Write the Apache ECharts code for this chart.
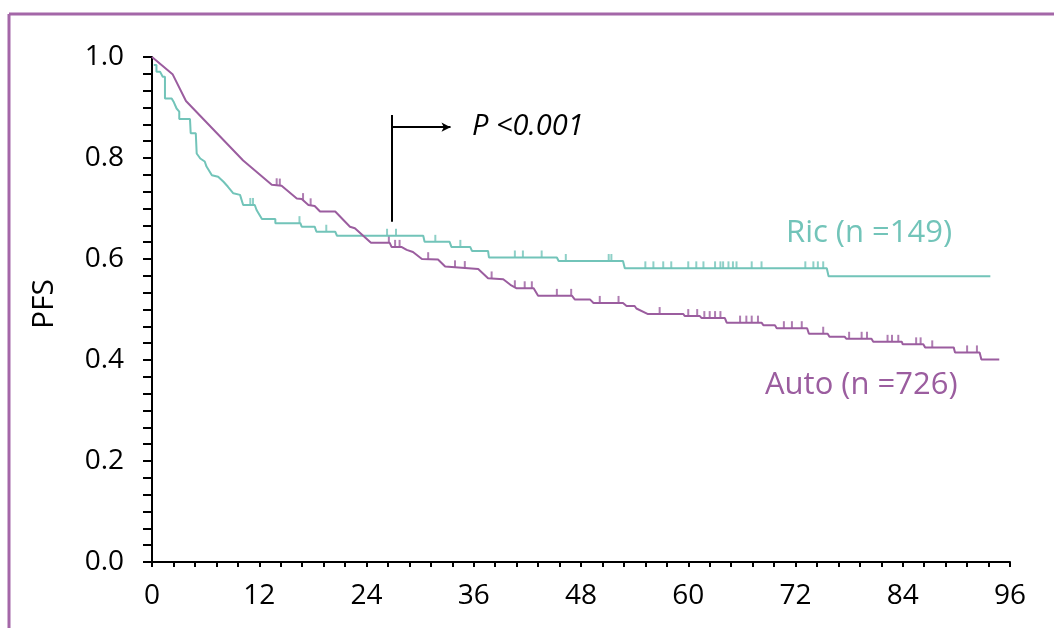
<!DOCTYPE html>
<html>
<head>
<meta charset="utf-8">
<title>PFS</title>
<script src="https://cdn.jsdelivr.net/npm/echarts@6/dist/echarts.min.js"></script>
<style>
    html, body { margin: 0; padding: 0; background: #fff; }
    #chart { width: 1054px; height: 628px; }
</style>
</head>
<body>
<div id="chart"></div>
<script>
    // curve vertices [months, PFS]
    var autoCurve = [
        [0, 1.0], [2.3, 0.966], [3.8, 0.913], [10.2, 0.795], [13.4, 0.747], [14.5, 0.745],
        [16.2, 0.720], [16.75, 0.719], [17.5, 0.707], [18.2, 0.705], [18.8, 0.694], [20.5, 0.694],
        [22.15, 0.664], [22.7, 0.661], [24.5, 0.632], [26.6, 0.632], [26.8, 0.624], [27.9, 0.624],
        [28.5, 0.618], [29.2, 0.614], [30.2, 0.600], [32.0, 0.599], [32.8, 0.585], [36.5, 0.580],
        [37.6, 0.562], [39.3, 0.560], [40.1, 0.549], [40.8, 0.542], [42.7, 0.542], [43.2, 0.527],
        [47.0, 0.527], [47.3, 0.520], [49.0, 0.520], [49.4, 0.513], [52.7, 0.513], [53.1, 0.507],
        [54.0, 0.507], [54.2, 0.502], [55.5, 0.491], [59.45, 0.491], [59.6, 0.487], [61.3, 0.487],
        [61.5, 0.483], [64.1, 0.483], [64.3, 0.474], [68.2, 0.474], [68.4, 0.469], [69.7, 0.469],
        [69.9, 0.463], [73.3, 0.463], [73.5, 0.452], [75.6, 0.452], [75.8, 0.446], [77.5, 0.446],
        [77.7, 0.442], [80.5, 0.442], [80.7, 0.436], [83.9, 0.436], [84.0, 0.431], [86.3, 0.431],
        [86.5, 0.425], [89.7, 0.425], [89.85, 0.415], [92.6, 0.415], [92.8, 0.401], [94.8, 0.401]
    ];
    var ricCurve = [
        [0.2, 0.984], [0.5, 0.984], [0.5, 0.971], [0.9, 0.971], [1.2, 0.961], [1.45, 0.961],
        [1.45, 0.918], [2.2, 0.918], [2.4, 0.912], [2.75, 0.898], [3.05, 0.892], [3.05, 0.877],
        [4.25, 0.877], [4.33, 0.849], [4.9, 0.849], [5.0, 0.809], [5.4, 0.799], [5.9, 0.793],
        [6.1, 0.783], [6.7, 0.766], [7.4, 0.763], [8.0, 0.753], [8.5, 0.743], [9.1, 0.730],
        [9.85, 0.727], [10.2, 0.707], [11.5, 0.707], [11.7, 0.697], [12.3, 0.679], [13.8, 0.679],
        [13.8, 0.671], [16.6, 0.671], [16.75, 0.664], [18.2, 0.664], [18.4, 0.654], [20.5, 0.654],
        [20.7, 0.646], [30.35, 0.646], [30.5, 0.634], [33.3, 0.634], [33.5, 0.624], [35.6, 0.624],
        [35.8, 0.616], [37.6, 0.616], [37.7, 0.603], [45.3, 0.603], [45.5, 0.596], [52.7, 0.596],
        [52.9, 0.5815], [75.5, 0.5815], [75.7, 0.566], [93.8, 0.566]
    ];
    // censoring times (months)
    var autoCensor = [13.95, 14.3, 16.9, 17.75, 26.5, 27.2, 27.7, 30.9, 33.9, 35.0, 38.0, 40.6, 41.7,
        42.5, 45.3, 46.9, 50.1, 52.2, 56.8, 60.0, 61.0, 61.8, 62.4, 63.0, 63.6, 65.8, 66.5, 67.1, 67.8,
        70.7, 71.6, 72.7, 75.1, 78.0, 79.4, 80.0, 82.3, 82.8, 83.5, 85.5, 86.0, 87.3, 91.2, 92.3];
    var ricCensor = [11.0, 11.3, 16.5, 19.5, 26.3, 27.3, 31.7, 34.5, 40.6, 41.5, 43.6, 46.3, 51.1,
        51.4, 55.2, 56.1, 57.2, 58.1, 60.0, 60.9, 61.7, 63.0, 63.6, 63.9, 64.5, 65.0, 65.4, 67.1, 68.2,
        73.1, 74.0, 74.5, 75.1];

    var purple = '#9b5d9f';
    var teal = '#72c4b9';
    var font = '"Open Sans", "Noto Sans", sans-serif';

    // place a censor mark on its curve
    function valueAt(curve, t) {
        for (var i = 1; i < curve.length; i++) {
            if (curve[i][0] >= t) {
                var a = curve[i - 1], b = curve[i];
                if (b[0] === a[0]) return b[1];
                return a[1] + (b[1] - a[1]) * (t - a[0]) / (b[0] - a[0]);
            }
        }
        return curve[curve.length - 1][1];
    }
    function censorPoints(curve, times) {
        var res = [];
        for (var i = 0; i < times.length; i++) {
            res.push([times[i], valueAt(curve, times[i])]);
        }
        return res;
    }

    var chart = echarts.init(document.getElementById('chart'));
    chart.setOption({
        animation: false,
        grid: { left: 152, right: 44, top: 57, bottom: 66 },
        xAxis: {
            type: 'value', min: 0, max: 96, interval: 12,
            axisLine: { lineStyle: { color: '#000', width: 2 } },
            axisTick: { length: 5, lineStyle: { color: '#000', width: 2 } },
            minorTick: { show: true, splitNumber: 5, length: 5, lineStyle: { color: '#000', width: 2 } },
            splitLine: { show: false },
            axisLabel: { color: '#000', fontSize: 28, fontFamily: font, margin: 20 }
        },
        yAxis: {
            type: 'value', min: 0, max: 1, interval: 0.2,
            axisLine: { show: true, lineStyle: { color: '#000', width: 2 } },
            axisTick: { show: true, length: 9, lineStyle: { color: '#000', width: 2 } },
            minorTick: { show: true, splitNumber: 6, length: 9, lineStyle: { color: '#000', width: 2 } },
            splitLine: { show: false },
            axisLabel: {
                color: '#000', fontSize: 28, fontFamily: font, margin: 28,
                formatter: function (v) { return v.toFixed(1); }
            }
        },
        series: [
            {
                name: 'Ric', type: 'line', data: ricCurve, showSymbol: false, silent: true,
                lineStyle: { color: teal, width: 2 }
            },
            {
                name: 'Auto', type: 'line', data: autoCurve, showSymbol: false, silent: true,
                lineStyle: { color: purple, width: 2 },
                markLine: {
                    silent: true, symbol: 'none', label: { show: false },
                    lineStyle: { color: '#000', width: 2, type: 'solid' },
                    data: [
                        [{ coord: [26.8, 0.674] }, { coord: [26.8, 0.885] }],
                        [{ coord: [26.8, 0.861] }, { coord: [33.4, 0.861], symbol: 'arrow', symbolSize: [7, 9] }]
                    ]
                }
            },
            {
                type: 'scatter', data: censorPoints(ricCurve, ricCensor), silent: true,
                symbol: 'rect', symbolSize: [2, 7], symbolOffset: [0, -3.5],
                itemStyle: { color: teal }
            },
            {
                type: 'scatter', data: censorPoints(autoCurve, autoCensor), silent: true,
                symbol: 'rect', symbolSize: [2, 7], symbolOffset: [0, -3.5],
                itemStyle: { color: purple }
            }
        ],
        graphic: [
            { type: 'line', shape: { x1: 9, y1: 14, x2: 1054, y2: 14 }, style: { stroke: '#a467a8', lineWidth: 3 } },
            { type: 'line', shape: { x1: 9, y1: 14, x2: 9, y2: 628 }, style: { stroke: '#a467a8', lineWidth: 3 } },
            {
                type: 'text', x: 44, y: 304, rotation: Math.PI / 2,
                style: { text: 'PFS', font: '30px ' + font, fill: '#000', align: 'center', verticalAlign: 'middle' }
            },
            { type: 'text', left: 472, top: 112, style: { text: 'P <0.001', font: 'italic 29px ' + font, fill: '#000' } },
            { type: 'text', left: 786, top: 218, style: { text: 'Ric (n =149)', font: '31px ' + font, fill: teal } },
            { type: 'text', left: 765, top: 370, style: { text: 'Auto (n =726)', font: '31px ' + font, fill: purple } }
        ]
    });
</script>
</body>
</html>
